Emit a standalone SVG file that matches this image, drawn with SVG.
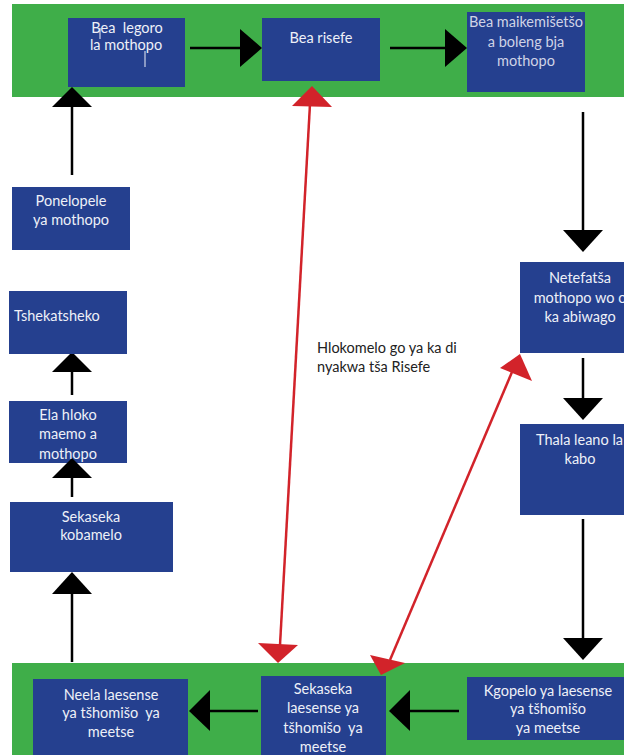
<svg xmlns="http://www.w3.org/2000/svg" width="624" height="755" viewBox="0 0 624 755">
<style>
.band{fill:#3fae49}
.box{fill:#25408f}
.t{font-family:Lato,"Open Sans","Liberation Sans",sans-serif;font-size:14.5px;fill:#eef0f8;text-anchor:middle}
.tl{text-anchor:start}
.lbl{font-family:Lato,"Open Sans","Liberation Sans",sans-serif;font-size:14.5px;fill:#222}
.ln{stroke:#000;stroke-width:2.5;fill:none}
.rl{stroke:#d2232a;stroke-width:2.5;fill:none}
.ah{fill:#000}
.rh{fill:#d2232a}
</style>
<rect width="624" height="755" fill="#fff"/>
<rect class="band" x="12" y="4" width="612" height="93"/>
<rect class="band" x="12" y="663" width="612" height="92"/>
<g id="connectors">
  <line class="ln" x1="190" y1="48" x2="242" y2="48"/>
  <polygon class="ah" points="262,48 240,29 240,67"/>
  <line class="ln" x1="390" y1="48" x2="447" y2="48"/>
  <polygon class="ah" points="467,48 445,29 445,67"/>
  <line class="ln" x1="583" y1="112" x2="583" y2="232"/>
  <polygon class="ah" points="583,252 563,230 603,230"/>
  <line class="ln" x1="583" y1="358" x2="583" y2="400"/>
  <polygon class="ah" points="583,420 563,398 603,398"/>
  <line class="ln" x1="583" y1="519" x2="583" y2="640"/>
  <polygon class="ah" points="583,660 563,638 603,638"/>
  <line class="ln" x1="459" y1="711" x2="408" y2="711"/>
  <polygon class="ah" points="389,711 410,690 410,731"/>
  <line class="ln" x1="258" y1="711" x2="208" y2="711"/>
  <polygon class="ah" points="189,711 210,690 210,731"/>
  <line class="ln" x1="72" y1="662" x2="72" y2="592"/>
  <polygon class="ah" points="72,572 52,594 92,594"/>
  <line class="ln" x1="72" y1="497" x2="72" y2="476"/>
  <line class="ln" x1="72" y1="395" x2="72" y2="370"/>
  <polygon class="ah" points="72,352 52,372 92,372"/>
  <line class="ln" x1="72" y1="175" x2="72" y2="105"/>
  <polygon class="ah" points="72,87 52,107 92,107"/>
  <line class="rl" x1="310" y1="104" x2="280" y2="645"/>
  <polygon class="rh" points="312,86 292,106 332,107"/>
  <polygon class="rh" points="278,663 258,643 298,645"/>
  <line class="rl" x1="512" y1="372" x2="390" y2="660"/>
  <polygon class="rh" points="520,354 500,368 532,381"/>
  <polygon class="rh" points="381,675 370,655 405,663"/>
</g>
<g id="n1"><rect class="box" x="68" y="18" width="117" height="69"/>
  <text class="t" x="127" y="33" xml:space="preserve">Bea  legoro</text><text class="t" x="126" y="50">la mothopo</text>
  <line x1="100" y1="28" x2="100" y2="39" stroke="#eef0f8" stroke-width="1"/>
  <line x1="145" y1="51" x2="145" y2="67" stroke="#eef0f8" stroke-width="1"/></g>
<g id="n2"><rect class="box" x="262" y="18" width="118" height="63"/>
  <text class="t" x="321" y="43">Bea risefe</text></g>
<g id="n3"><rect class="box" x="467" y="12" width="118" height="80"/>
  <text class="t" x="526" y="27" style="fill:#cfd3e6">Bea maikemišetšo</text><text class="t" x="526" y="47" style="fill:#cfd3e6">a boleng bja</text><text class="t" x="526" y="66" style="fill:#cfd3e6">mothopo</text></g>
<g id="n4"><rect class="box" x="520" y="262" width="116" height="91"/>
  <text class="t" x="580" y="283">Netefatša</text><text class="t" x="580" y="303">mothopo wo o</text><text class="t" x="580" y="322">ka abiwago</text></g>
<g id="n5"><rect class="box" x="520" y="424" width="116" height="91"/>
  <text class="t tl" x="536" y="445">Thala leano la</text><text class="t" x="580" y="464">kabo</text></g>
<g id="n6"><rect class="box" x="467" y="677" width="170" height="63"/>
  <text class="t" x="548" y="696">Kgopelo ya laesense</text><text class="t" x="548" y="714">ya tšhomišo</text><text class="t" x="548" y="733">ya meetse</text></g>
<g id="n7"><rect class="box" x="261" y="676" width="125" height="79"/>
  <text class="t" x="323" y="694">Sekaseka</text><text class="t" x="323" y="713">laesense ya</text><text class="t" x="323" y="733" xml:space="preserve">tšhomišo  ya</text><text class="t" x="323" y="752">meetse</text></g>
<g id="n8"><rect class="box" x="33" y="679" width="155" height="76"/>
  <text class="t" x="111" y="700">Neela laesense</text><text class="t" x="111" y="718" xml:space="preserve">ya tšhomišo  ya</text><text class="t" x="111" y="737">meetse</text></g>
<g id="n9"><rect class="box" x="10" y="502" width="163" height="70"/>
  <text class="t" x="91" y="522">Sekaseka</text><text class="t" x="91" y="540">kobamelo</text></g>
<g id="n10"><rect class="box" x="9" y="401" width="118" height="62"/>
  <polygon class="ah" points="72,458 52,478 92,478"/>
  <text class="t" x="68" y="420">Ela hloko</text><text class="t" x="68" y="439">maemo a</text><text class="t" x="68" y="459">mothopo</text></g>
<g id="n11"><rect class="box" x="9" y="291" width="118" height="63"/>
  <text class="t tl" x="14" y="321">Tshekatsheko</text></g>
<g id="n12"><rect class="box" x="12" y="187" width="118" height="63"/>
  <text class="t" x="71" y="206">Ponelopele</text><text class="t" x="71" y="225">ya mothopo</text></g>
<g id="label"><text class="lbl" x="317" y="353">Hlokomelo go ya ka di</text><text class="lbl" x="317" y="372">nyakwa tša Risefe</text></g>
</svg>
